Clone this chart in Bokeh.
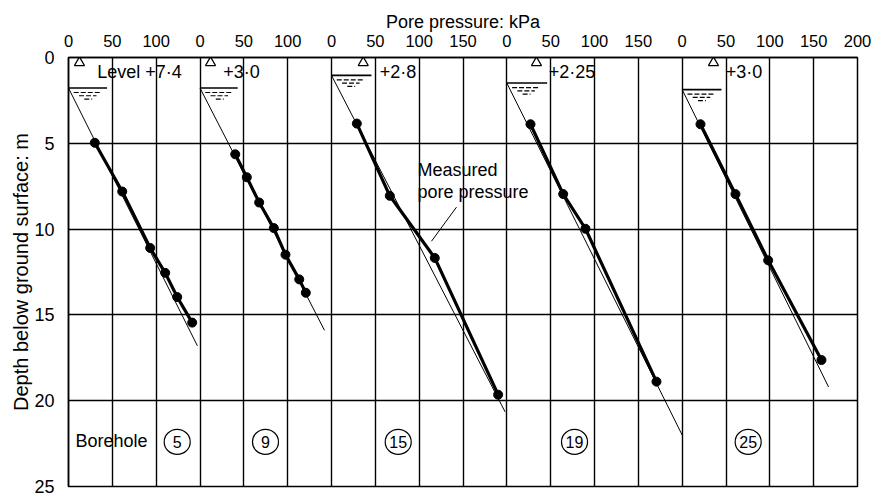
import numpy as np
from bokeh.plotting import figure
from bokeh.models import Range1d, FixedTicker, Title
from bokeh.core.properties import value
from bokeh.embed import file_html
from bokeh.resources import INLINE

# ---- data -------------------------------------------------------------
boreholes = ["5", "9", "15", "19", "25"]
panel_span = [150, 150, 200, 200, 200]          # kPa covered by each borehole panel
level_text = ["Level +7·4", "+3·0", "+2·8", "+2·25", "+3·0"]
water_depth = [1.78, 1.78, 1.04, 1.49, 1.87]     # m, water table below ground
hydro_end_u = [147, 142, 198, 200, 167]          # kPa, end of hydrostatic line
hydro_end_z = [16.8, 15.9, 20.65, 22.0, 19.2]    # m
meas_u = [
    [30.0, 61.3, 93.2, 110.3, 124.0, 141.1],
    [40.2, 53.4, 67.5, 84.2, 97.5, 113.2, 120.7],
    [28.9, 66.5, 117.8, 190.1],
    [27.0, 64.3, 89.7, 170.7],
    [20.9, 60.8, 98.1, 158.9],
]
meas_z = [
    [4.97, 7.81, 11.10, 12.55, 13.96, 15.45],
    [5.64, 6.98, 8.45, 9.94, 11.49, 12.93, 13.71],
    [3.85, 8.06, 11.68, 19.65],
    [3.89, 7.96, 9.98, 18.89],
    [3.89, 7.96, 11.82, 17.63],
]
depth_ticks = [0, 5, 10, 15, 20, 25]

# ---- annotation placement (kPa within panel, depth m) -----------------
tri_u = [12.5, 12.0, 36.2, 33.8, 35.7]
level_u = [32.7, 26.5, 55.0, 47.9, 49.7]
water_line_len = [44, 43, 45.6, 46, 44.8]
circle_u = [124, 74.7, 76.1, 77.2, 75.3]

FONT = "Liberation Sans"
offsets = np.cumsum([0] + panel_span[:-1])
total = sum(panel_span)

p = figure(width=878, height=496, output_backend="svg", toolbar_location=None,
           x_range=Range1d(0, total), y_range=Range1d(25, 0),
           x_axis_location="above",
           min_border_left=68, min_border_right=21,
           min_border_top=57, min_border_bottom=10)
p.background_fill_color = "white"
p.border_fill_color = "white"
p.outline_line_color = "black"
p.outline_line_width = 1.5

# top axis: each panel restarts at zero
xticks, overrides = [], {}
for k, (off, span) in enumerate(zip(offsets, panel_span)):
    last = k == len(panel_span) - 1
    for t in range(0, span + (1 if last else 0), 50):
        xticks.append(int(off + t))
        overrides[int(off + t)] = str(t)
xax = p.xaxis[0]
xax.ticker = FixedTicker(ticks=xticks)
xax.major_label_overrides = overrides
xax.major_label_text_font = FONT
xax.major_label_text_font_size = "16.5px"
xax.major_label_text_color = "black"
xax.major_label_standoff = 5
xax.major_tick_line_color = None
xax.minor_tick_line_color = None
xax.axis_line_color = "black"
xax.axis_line_width = 1.5

yax = p.yaxis[0]
yax.ticker = FixedTicker(ticks=depth_ticks)
yax.major_label_text_font = FONT
yax.major_label_text_font_size = "18px"
yax.major_label_text_color = "black"
yax.major_label_standoff = 8
yax.major_tick_line_color = None
yax.minor_tick_line_color = None
yax.axis_line_color = "black"
yax.axis_line_width = 1.5

p.xgrid.ticker = FixedTicker(ticks=xticks)
p.ygrid.ticker = FixedTicker(ticks=depth_ticks[1:-1])
for g in (p.xgrid[0], p.ygrid[0]):
    g.grid_line_color = "black"
    g.grid_line_alpha = 1.0
    g.grid_line_width = 1.4

for k in range(len(boreholes)):
    off = offsets[k]
    zw = water_depth[k]
    # hydrostatic line from the water table
    p.line([off, off + hydro_end_u[k]], [zw, hydro_end_z[k]],
           line_color="black", line_width=1)
    # measured pore pressure
    xs = [off + u for u in meas_u[k]]
    p.line(xs, meas_z[k], line_color="black", line_width=3.2)
    p.scatter(xs, meas_z[k], size=9, color="black")
    # water table symbol
    p.line([off, off + water_line_len[k]], [zw, zw], line_color="black", line_width=1.6)
    for dz, a, b in ((0.26, 6, 36), (0.45, 12, 32), (0.64, 18, 27)):
        p.line([off + a, off + b], [zw + dz, zw + dz], line_color="black",
               line_width=1.2, line_dash="5 2")
    p.scatter([off + tri_u[k]], [0.3], marker="triangle", size=10,
              fill_color="white", line_color="black", line_width=1.3)
    p.text([off + level_u[k]], [0.85], text=[level_text[k]], text_font=value(FONT),
           text_font_size="18px", text_align="left", text_baseline="middle",
           text_color="black")
    # borehole number in a circle
    p.ellipse([off + circle_u[k]], [22.4], width=26, height=25,
              width_units="screen", height_units="screen",
              fill_color="white", line_color="black", line_width=1.2)
    p.text([off + circle_u[k]], [22.4], text=[boreholes[k]], text_font=value(FONT),
           text_font_size="16px", text_align="center", text_baseline="middle",
           text_color="black")

p.text([offsets[0] + 8], [22.35], text=["Borehole"], text_font=value(FONT),
       text_font_size="18px", text_align="left", text_baseline="middle",
       text_color="black")

# callout for the measured curve
p.text([offsets[2] + 98], [6.55], text=["Measured"], text_font=value(FONT),
       text_font_size="18px", text_align="left", text_baseline="middle", text_color="black")
p.text([offsets[2] + 98], [7.85], text=["pore pressure"], text_font=value(FONT),
       text_font_size="18px", text_align="left", text_baseline="middle", text_color="black")
p.line([offsets[2] + 114, offsets[2] + 142.6], [10.71, 8.72], line_color="black", line_width=1)

# axis titles
p.add_layout(Title(text="Pore pressure: kPa", align="center", offset=13, standoff=0,
                   text_font=FONT, text_font_size="18px", text_font_style="normal",
                   text_color="black"), "above")
p.add_layout(Title(text="Depth below ground surface: m", align="center", offset=20,
                   standoff=0, text_font=FONT, text_font_size="20px",
                   text_font_style="normal", text_color="black"), "left")

open("out.html", "w").write(file_html(p, INLINE))
